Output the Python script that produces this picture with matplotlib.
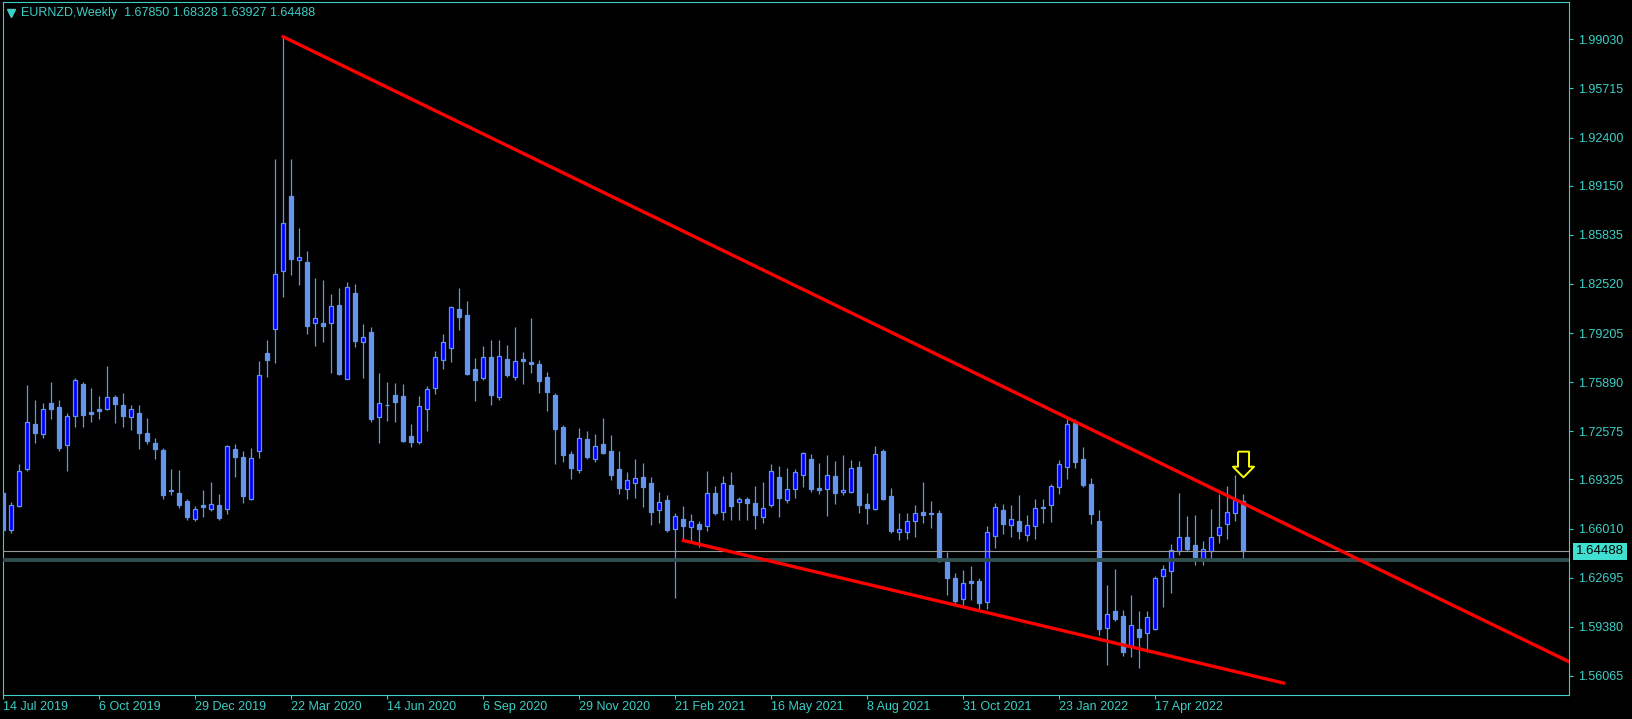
import matplotlib
matplotlib.use('Agg')
import matplotlib.pyplot as plt
import numpy as np
import pandas as pd
from matplotlib.path import Path

# EURNZD weekly candles, 14 Jul 2019 .. 3 Jul 2022
opens = [
    1.6841, 1.6592, 1.6756, 1.7005, 1.7307, 1.7241, 1.7449, 1.7422, 1.7167, 1.7359,
    1.7577, 1.7388, 1.7406, 1.7410, 1.7489, 1.7435, 1.7352, 1.7381, 1.7244, 1.7179,
    1.7131, 1.6861, 1.6839, 1.6785, 1.6668, 1.6760, 1.6735, 1.6760, 1.6735, 1.7138,
    1.7084, 1.6801, 1.7127, 1.7784, 1.7950, 1.8337, 1.8845, 1.8412, 1.8398, 1.7986,
    1.7986, 1.7990, 1.8110, 1.7613, 1.8191, 1.7862, 1.7928, 1.7356, 1.7436, 1.7501,
    1.7496, 1.7226, 1.7187, 1.7406, 1.7548, 1.7741, 1.7822, 1.8081, 1.8040, 1.7678,
    1.7619, 1.7759, 1.7487, 1.7746, 1.7626, 1.7746, 1.7725, 1.7712, 1.7622, 1.7501,
    1.7287, 1.7104, 1.6999, 1.7206, 1.7073, 1.7172, 1.7125, 1.7003, 1.6870, 1.6907,
    1.6947, 1.6909, 1.6724, 1.6794, 1.6596, 1.6666, 1.6610, 1.6632, 1.6617, 1.6841,
    1.6711, 1.6895, 1.6778, 1.6801, 1.6772, 1.6677, 1.6758, 1.6947, 1.6792, 1.6866,
    1.6961, 1.7071, 1.6875, 1.6866, 1.6956, 1.6846, 1.6850, 1.7015, 1.6765, 1.6731,
    1.7125, 1.6819, 1.6576, 1.6580, 1.6654, 1.6711, 1.6706, 1.6704, 1.6382, 1.6268,
    1.6128, 1.6247, 1.6247, 1.6104, 1.6549, 1.6727, 1.6623, 1.6650, 1.6556, 1.6617,
    1.6745, 1.6758, 1.6880, 1.7015, 1.7316, 1.7069, 1.6900, 1.6650, 1.5928, 1.6045,
    1.6011, 1.5804, 1.5924, 1.5894, 1.5926, 1.6281, 1.6313, 1.6448, 1.6542, 1.6488,
    1.6394, 1.6452, 1.6556, 1.6630, 1.6704, 1.67850,
]
highs = [
    1.6855, 1.6778, 1.7037, 1.7570, 1.7469, 1.7449, 1.7590, 1.7469, 1.7379, 1.7617,
    1.7588, 1.7550, 1.7496, 1.7698, 1.7503, 1.7516, 1.7435, 1.7435, 1.7347, 1.7212,
    1.7143, 1.7003, 1.6996, 1.6801, 1.6754, 1.6861, 1.6915, 1.6834, 1.7165, 1.7172,
    1.7125, 1.7147, 1.7732, 1.7874, 1.9095, 1.9925, 1.9095, 1.8630, 1.8474, 1.8292,
    1.8279, 1.8184, 1.8225, 1.8263, 1.8252, 1.7982, 1.7961, 1.7651, 1.7590, 1.7584,
    1.7577, 1.7307, 1.7496, 1.7563, 1.7802, 1.7914, 1.8105, 1.8225, 1.8137, 1.7752,
    1.7833, 1.7874, 1.7874, 1.7840, 1.7961, 1.7793, 1.8020, 1.7739, 1.7656, 1.7514,
    1.7300, 1.7123, 1.7280, 1.7260, 1.7239, 1.7347, 1.7233, 1.7125, 1.6983, 1.7071,
    1.7044, 1.6949, 1.6848, 1.6828, 1.6706, 1.6754, 1.6700, 1.6652, 1.6990, 1.6888,
    1.6956, 1.6983, 1.6816, 1.6816, 1.6888, 1.6915, 1.7037, 1.7023, 1.7010, 1.7003,
    1.7118, 1.7104, 1.7044, 1.7098, 1.7057, 1.7098, 1.7064, 1.7057, 1.6841, 1.7158,
    1.7138, 1.6875, 1.6704, 1.6704, 1.6758, 1.6915, 1.6787, 1.6727, 1.6445, 1.6301,
    1.6322, 1.6349, 1.6268, 1.6621, 1.6774, 1.6767, 1.6758, 1.6826, 1.6691, 1.6801,
    1.6801, 1.6902, 1.7064, 1.7339, 1.7339, 1.7152, 1.6940, 1.6724, 1.6220, 1.6328,
    1.6051, 1.6153, 1.6045, 1.6045, 1.6281, 1.6355, 1.6497, 1.6841, 1.6686, 1.6693,
    1.6517, 1.6733, 1.6834, 1.6888, 1.6963, 1.68328,
]
lows = [
    1.6558, 1.6571, 1.6749, 1.6992, 1.7181, 1.7214, 1.7343, 1.7127, 1.6992, 1.7289,
    1.7289, 1.7322, 1.7343, 1.7401, 1.7316, 1.7289, 1.7268, 1.7140, 1.7174, 1.7073,
    1.6803, 1.6830, 1.6742, 1.6659, 1.6652, 1.6681, 1.6720, 1.6659, 1.6702, 1.6951,
    1.6776, 1.6796, 1.7079, 1.7626, 1.7721, 1.8166, 1.8314, 1.8247, 1.7916, 1.7835,
    1.7862, 1.7653, 1.7638, 1.7613, 1.7829, 1.7619, 1.7320, 1.7181, 1.7329, 1.7322,
    1.7187, 1.7154, 1.7170, 1.7262, 1.7507, 1.7680, 1.7727, 1.7943, 1.7638, 1.7464,
    1.7604, 1.7437, 1.7469, 1.7624, 1.7606, 1.7577, 1.7653, 1.7518, 1.7397, 1.7039,
    1.7052, 1.6938, 1.6978, 1.7073, 1.7052, 1.7104, 1.6931, 1.6837, 1.6803, 1.6810,
    1.6749, 1.6627, 1.6641, 1.6580, 1.6133, 1.6531, 1.6519, 1.6479, 1.6587, 1.6693,
    1.6661, 1.6661, 1.6661, 1.6661, 1.6600, 1.6637, 1.6745, 1.6681, 1.6776, 1.6810,
    1.6882, 1.6850, 1.6837, 1.6688, 1.6769, 1.6830, 1.6843, 1.6708, 1.6634, 1.6724,
    1.6796, 1.6573, 1.6526, 1.6533, 1.6546, 1.6641, 1.6607, 1.6376, 1.6155, 1.6083,
    1.6083, 1.6119, 1.6056, 1.6056, 1.6472, 1.6567, 1.6546, 1.6533, 1.6519, 1.6533,
    1.6641, 1.6648, 1.6837, 1.6938, 1.7012, 1.6880, 1.6630, 1.5881, 1.5681, 1.5977,
    1.5741, 1.5732, 1.5660, 1.5768, 1.5917, 1.6074, 1.6169, 1.6423, 1.6450, 1.6355,
    1.6355, 1.6389, 1.6506, 1.6533, 1.6654, 1.63927,
]
closes = [
    1.6592, 1.6758, 1.6988, 1.7318, 1.7246, 1.7406, 1.7408, 1.7147, 1.7359, 1.7602,
    1.7370, 1.7376, 1.7397, 1.7487, 1.7444, 1.7363, 1.7406, 1.7248, 1.7194, 1.7140,
    1.6830, 1.6855, 1.6762, 1.6679, 1.6731, 1.6749, 1.6765, 1.6675, 1.7158, 1.7084,
    1.6821, 1.7077, 1.7638, 1.7741, 1.8317, 1.8661, 1.8422, 1.8432, 1.7970, 1.8020,
    1.7970, 1.8101, 1.7644, 1.8229, 1.7869, 1.7892, 1.7343, 1.7447, 1.7433, 1.7457,
    1.7194, 1.7187, 1.7428, 1.7541, 1.7757, 1.7860, 1.8094, 1.8031, 1.7644, 1.7606,
    1.7757, 1.7503, 1.7764, 1.7640, 1.7730, 1.7732, 1.7714, 1.7599, 1.7525, 1.7275,
    1.7100, 1.7012, 1.7210, 1.7086, 1.7156, 1.7113, 1.6965, 1.6877, 1.6927, 1.6940,
    1.6884, 1.6715, 1.6778, 1.6594, 1.6684, 1.6621, 1.6650, 1.6600, 1.6839, 1.6708,
    1.6907, 1.6756, 1.6799, 1.6776, 1.6695, 1.6738, 1.6988, 1.6810, 1.6868, 1.6981,
    1.7109, 1.6870, 1.6859, 1.6961, 1.6843, 1.6859, 1.7008, 1.6762, 1.6742, 1.7102,
    1.6803, 1.6587, 1.6596, 1.6650, 1.6704, 1.6695, 1.6697, 1.6382, 1.6270, 1.6112,
    1.6234, 1.6236, 1.6101, 1.6576, 1.6747, 1.6634, 1.6664, 1.6587, 1.6623, 1.6738,
    1.6743, 1.6886, 1.7035, 1.7305, 1.7052, 1.6897, 1.6702, 1.5922, 1.6023, 1.5993,
    1.5770, 1.5948, 1.5868, 1.6004, 1.6268, 1.6326, 1.6455, 1.6542, 1.6463, 1.6411,
    1.6465, 1.6542, 1.6610, 1.6711, 1.6794, 1.64488,
]

start_date = '2019-07-14'
price_ticks = [1.99030, 1.95715, 1.92400, 1.89150, 1.85835, 1.82520, 1.79205,
               1.75890, 1.72575, 1.69325, 1.66010, 1.62695, 1.59380, 1.56065]

# trend lines (bar index, price) and horizontal levels
upper_x, upper_y = [35, 195.7], [1.9920, 1.5703]
lower_x, lower_y = [85, 160], [1.6521, 1.5559]
bid_price = 1.64488
level_price = 1.6388
arrow_bar, arrow_price = 155, 1.7037

fg = '#3ccfc6'
bar_col = '#6495ED'

o = np.array(opens)
h = np.array(highs)
l = np.array(lows)
c = np.array(closes)
x = np.arange(len(c))
dates = pd.date_range(start_date, periods=len(c), freq='7D')

fig = plt.figure(figsize=(16.33, 7.19), dpi=100, facecolor='black')
ax = fig.add_axes([3 / 1633, 24 / 719, 1566 / 1633, 693 / 719])
ax.set_facecolor('black')

ax.vlines(x, l, h, color=bar_col, lw=0.9, zorder=2)
up = c > o
ax.bar(x[up], (c - o)[up], bottom=o[up], width=0.5, color='#0000FF',
       edgecolor=bar_col, linewidth=0.9, zorder=3)
dn = ~up
ax.bar(x[dn], np.maximum(o - c, 0.00005)[dn], bottom=c[dn], width=0.5,
       color=bar_col, edgecolor=bar_col, linewidth=0.9, zorder=3)

ax.axhline(level_price, color='#2F4F4F', lw=2.8, zorder=4)
ax.axhline(bid_price, color='#999999', lw=0.8, zorder=4)
ax.plot(upper_x, upper_y, color='#FF0000', lw=2.4, zorder=5)
ax.plot(lower_x, lower_y, color='#FF0000', lw=2.4, zorder=5)

arrow = Path([(-0.43, 1), (0.43, 1), (0.43, -0.17), (0.82, -0.17), (0, -1),
              (-0.82, -0.17), (-0.43, -0.17), (-0.43, 1)])
ax.plot([arrow_bar], [arrow_price], marker=arrow, ms=18.5, mfc='black',
        mec='#FFFF00', mew=1.4, ls='none', zorder=6)

ax.set_xlim(-0.04, 195.71)
ax.set_ylim(1.5478, 2.0155)

ax.yaxis.tick_right()
ax.set_yticks(price_ticks, [f'{p:.5f}' for p in price_ticks])
tick_idx = list(range(0, len(c), 12))
ax.set_xticks(tick_idx, [f'{dates[i].day} {dates[i].strftime("%b %Y")}' for i in tick_idx])
for lbl in ax.get_xticklabels():
    lbl.set_ha('left')
ax.tick_params(axis='both', colors=fg, labelcolor=fg, length=3, width=0.8,
               labelsize=9, labelfontfamily='Liberation Sans')
ax.tick_params(axis='x', pad=1.5)
ax.tick_params(axis='y', pad=3.5)
for s in ax.spines.values():
    s.set_color(fg)
    s.set_linewidth(0.8)

ax.text(1.0045, bid_price, f'{bid_price:.5f}', transform=ax.get_yaxis_transform(),
        va='center', ha='left', fontsize=9.5, family='Liberation Sans', color='black',
        bbox=dict(boxstyle='square,pad=0.2', fc='#40E0D0', ec='none'), zorder=7,
        clip_on=False)

ax.plot([8 / 1566], [1 - 10.5 / 693], marker='v', ms=5.5, color=fg,
        transform=ax.transAxes, clip_on=False, ls='none')
ax.text(18 / 1566, 1 - 11.3 / 693,
        'EURNZD,Weekly  ' + ' '.join(f'{v:.5f}' for v in [o[-1], h[-1], l[-1], c[-1]]),
        transform=ax.transAxes, va='center', ha='left', fontsize=9,
        family='Liberation Sans', color=fg)

fig.savefig('out.png', dpi=100, facecolor='black')
